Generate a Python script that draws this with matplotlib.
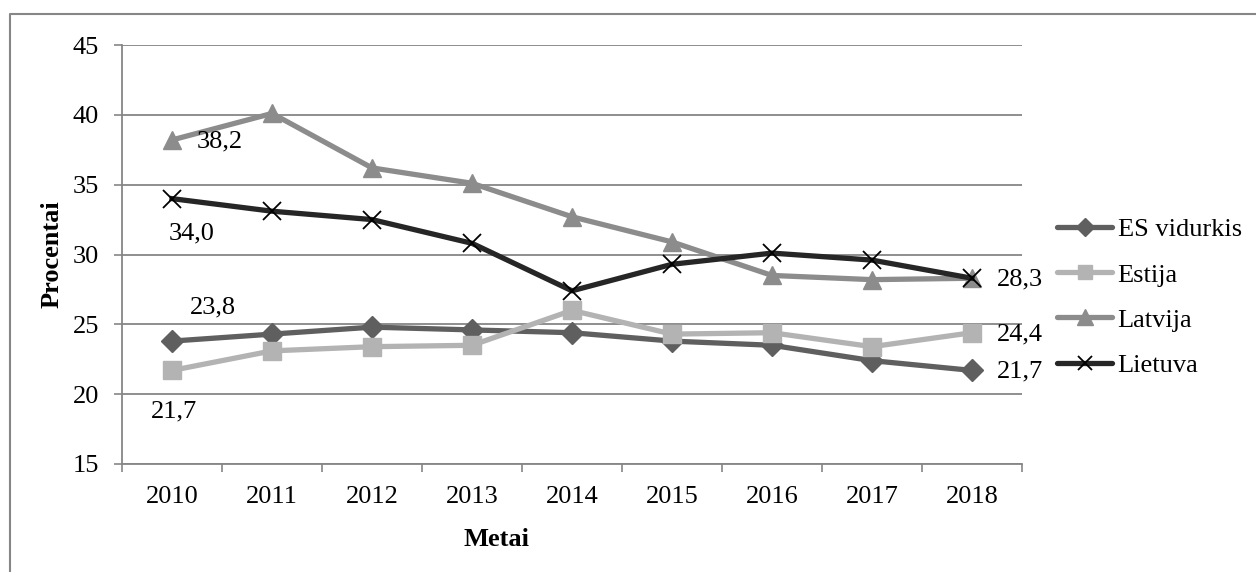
import matplotlib
matplotlib.use("Agg")
import matplotlib.pyplot as plt
from matplotlib.lines import Line2D

YEARS = ['2010', '2011', '2012', '2013', '2014', '2015', '2016', '2017', '2018']
ES_VIDURKIS = [23.8, 24.3, 24.8, 24.6, 24.4, 23.8, 23.5, 22.4, 21.7]
ESTIJA = [21.7, 23.1, 23.4, 23.5, 26.0, 24.3, 24.4, 23.4, 24.4]
LATVIJA = [38.2, 40.1, 36.2, 35.1, 32.7, 30.9, 28.5, 28.2, 28.3]
LIETUVA = [34.0, 33.1, 32.5, 30.8, 27.4, 29.3, 30.1, 29.6, 28.3]
Y_TICKS = [15, 20, 25, 30, 35, 40, 45]

GRID = '#868686'
FONT = 19
plt.rcParams['font.family'] = ['Liberation Serif', 'DejaVu Serif']

SERIES = [
    ('ES vidurkis', ES_VIDURKIS, '#5f5f5f', 'D', 11, '#5f5f5f', 1.0),
    ('Estija', ESTIJA, '#b3b3b3', 's', 12.5, '#b3b3b3', 1.0),
    ('Latvija', LATVIJA, '#8c8c8c', '^', 13.5, '#8c8c8c', 1.0),
    ('Lietuva', LIETUVA, '#262626', 'x', 12.5, '#000000', 1.3),
]

W, H = 1256, 572
fig = plt.figure(figsize=(W / 100, H / 100), dpi=100)
ax = fig.add_axes([122 / W, 1 - 464 / H, 900 / W, 419 / H])

x = list(range(len(YEARS)))
handles = []
for label, values, color, marker, ms, mcolor, mew in SERIES:
    line, = ax.plot(x, values, color=color, linewidth=3.8, marker=marker,
                    markersize=ms, markerfacecolor=mcolor, markeredgecolor=mcolor,
                    markeredgewidth=mew, solid_joinstyle='round', label=label,
                    zorder=3)
    handles.append(line)

ax.set_xlim(-0.5, len(YEARS) - 0.5)
ax.set_ylim(15, 45)
ax.set_yticks(Y_TICKS)
ax.set_xticks(x, YEARS)
ax.set_xticks([i - 0.5 for i in range(len(YEARS) + 1)], minor=True)
ax.tick_params(axis='x', which='major', length=0, pad=16, labelsize=FONT)
ax.tick_params(axis='x', which='minor', length=6, width=1.2, color=GRID, direction='out')
ax.tick_params(axis='y', length=5.5, width=1.2, color=GRID, direction='out',
               pad=11, labelsize=FONT)
ax.grid(True, axis='y', color=GRID, linewidth=1.3)
ax.set_axisbelow(True)
for spine in ['top', 'right']:
    ax.spines[spine].set_visible(False)
ax.spines['left'].set_color(GRID)
ax.spines['bottom'].set_color(GRID)
ax.spines['left'].set_linewidth(1.3)
ax.spines['bottom'].set_linewidth(1.3)

fig.text(52 / W, 1 - 254 / H, 'Procentai', rotation=90, ha='center', va='center',
         fontsize=FONT, fontweight='bold')
fig.text(497 / W, 1 - 540 / H, 'Metai', ha='center', va='center',
         fontsize=FONT, fontweight='bold')

# data labels (offsets in points)
def tag(i, values, dx, dy, ha):
    ax.annotate(f'{values[i]:.1f}'.replace('.', ','), (x[i], values[i]),
                xytext=(dx, dy), textcoords='offset points', ha=ha, va='center',
                fontsize=FONT, zorder=4)

tag(0, LATVIJA, 18, -1, 'left')
tag(0, LIETUVA, 14, -25, 'center')
tag(0, ES_VIDURKIS, 29.5, 24.5, 'center')
tag(0, ESTIJA, 1.5, -29.5, 'center')
tag(8, LIETUVA, 18, -1, 'left')
tag(8, ESTIJA, 18, -1, 'left')
tag(8, ES_VIDURKIS, 18, -1, 'left')

leg_handles = [Line2D([0], [0], color=h.get_color(), linewidth=3.8, marker=h.get_marker(),
                      markersize=h.get_markersize() * 0.85,
                      markerfacecolor=h.get_markerfacecolor(),
                      markeredgecolor=h.get_markeredgecolor(),
                      markeredgewidth=h.get_markeredgewidth(),
                      solid_capstyle='round')
               for h in handles]
fig.legend(leg_handles, [s[0] for s in SERIES], loc='upper left',
           bbox_to_anchor=(1057 / W, 1 - 218 / H), frameon=False, fontsize=FONT,
           handlelength=2.1, handletextpad=0.2, labelspacing=0.82,
           borderaxespad=0, borderpad=0)

# outer chart border
fig.add_artist(Line2D([10 / W, 10 / W, 1.0], [0.0, 1 - 14 / H, 1 - 14 / H],
                      transform=fig.transFigure, color=GRID, linewidth=1.5))

fig.savefig('out.png', dpi=100, facecolor='white')
